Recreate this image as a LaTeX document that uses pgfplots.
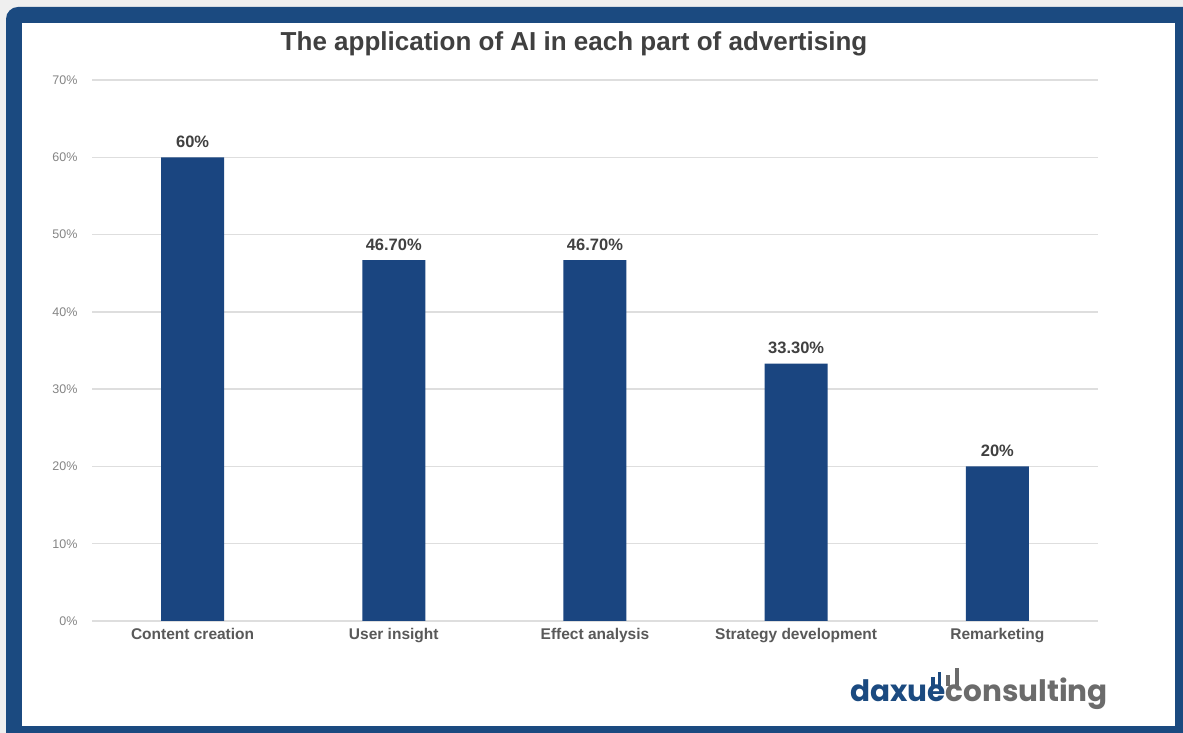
\documentclass[border=0pt]{standalone}
\usepackage{fontspec}
\setmainfont{Liberation Sans}
\newfontfamily\logofont{Poppins}
\usepackage{pgfplots}
\usepackage{pgfplotstable}
\pgfplotsset{compat=1.18}

\definecolor{frameblue}{HTML}{1B4A80}
\definecolor{barblue}{HTML}{1A4580}
\definecolor{gridgray}{HTML}{DEDEDE}
\definecolor{tickgray}{HTML}{858585}
\definecolor{labgray}{HTML}{595959}
\definecolor{darkgray}{HTML}{404040}
\definecolor{bggray}{HTML}{EFEFEF}
\definecolor{logogray}{HTML}{6B6B6B}

% share of advertising parts using AI
\pgfplotstableread{
x y lab
0 60   60
1 46.7 46.70
2 46.7 46.70
3 33.3 33.30
4 20   20
}\aidata

\begin{document}
\begin{tikzpicture}
\useasboundingbox (0,0) rectangle (1183pt,733pt);
\fill[bggray] (0,0) rectangle (1183pt,733pt);
\fill[frameblue, rounded corners=12pt] (6pt,-12pt) rectangle (1198pt,726pt);
\fill[white] (22pt,7pt) rectangle (1175pt,710pt);

\begin{axis}[
    at={(92pt,112pt)}, anchor=south west,
    scale only axis,
    width=1006pt, height=541pt,
    xmin=-0.5, xmax=4.5,
    ymin=0, ymax=70,
    ytick={0,10,...,70},
    xtick={0,1,2,3,4},
    xticklabels={Content creation, User insight, Effect analysis, Strategy development, Remarketing},
    yticklabel={\pgfmathprintnumber{\tick}\%},
    /pgf/number format/assume math mode=true,
    axis line style={draw=none},
    major tick length=0pt,
    ymajorgrids,
    grid style={gridgray, line width=1.3pt},
    yticklabel style={font=\fontsize{12.5}{14}\selectfont, text=tickgray, xshift=-11pt},
    xticklabel style={font=\fontsize{15.5}{17}\selectfont\bfseries, text=labgray, yshift=-4pt},
    ybar, bar width=63pt,
    point meta=explicit symbolic,
    nodes near coords={\pgfplotspointmeta\%},
    nodes near coords style={font=\fontsize{16.5}{18}\selectfont\bfseries, text=darkgray, anchor=south, yshift=6pt},
    clip=false,
]
\addplot[fill=barblue, draw=none] table[x=x, y=y, meta=lab] {\aidata};
\end{axis}

\node[font=\fontsize{26}{30}\selectfont\bfseries, text=darkgray] at (574pt,689pt) {The application of AI in each part of advertising};

% logo
\fill[frameblue] (931pt,47pt) rectangle (934.5pt,56pt);
\fill[frameblue] (937.5pt,47pt) rectangle (941pt,61pt);
\fill[logogray] (946pt,47pt) rectangle (949.5pt,58pt);
\fill[logogray] (955pt,47pt) rectangle (958.5pt,65pt);
\node[anchor=base west, inner sep=0pt, font=\logofont\bfseries\fontsize{29.5}{31}\selectfont] at (850pt,31pt) {\textcolor{frameblue}{daxue}\textcolor{logogray}{consulting}};
\end{tikzpicture}
\end{document}
